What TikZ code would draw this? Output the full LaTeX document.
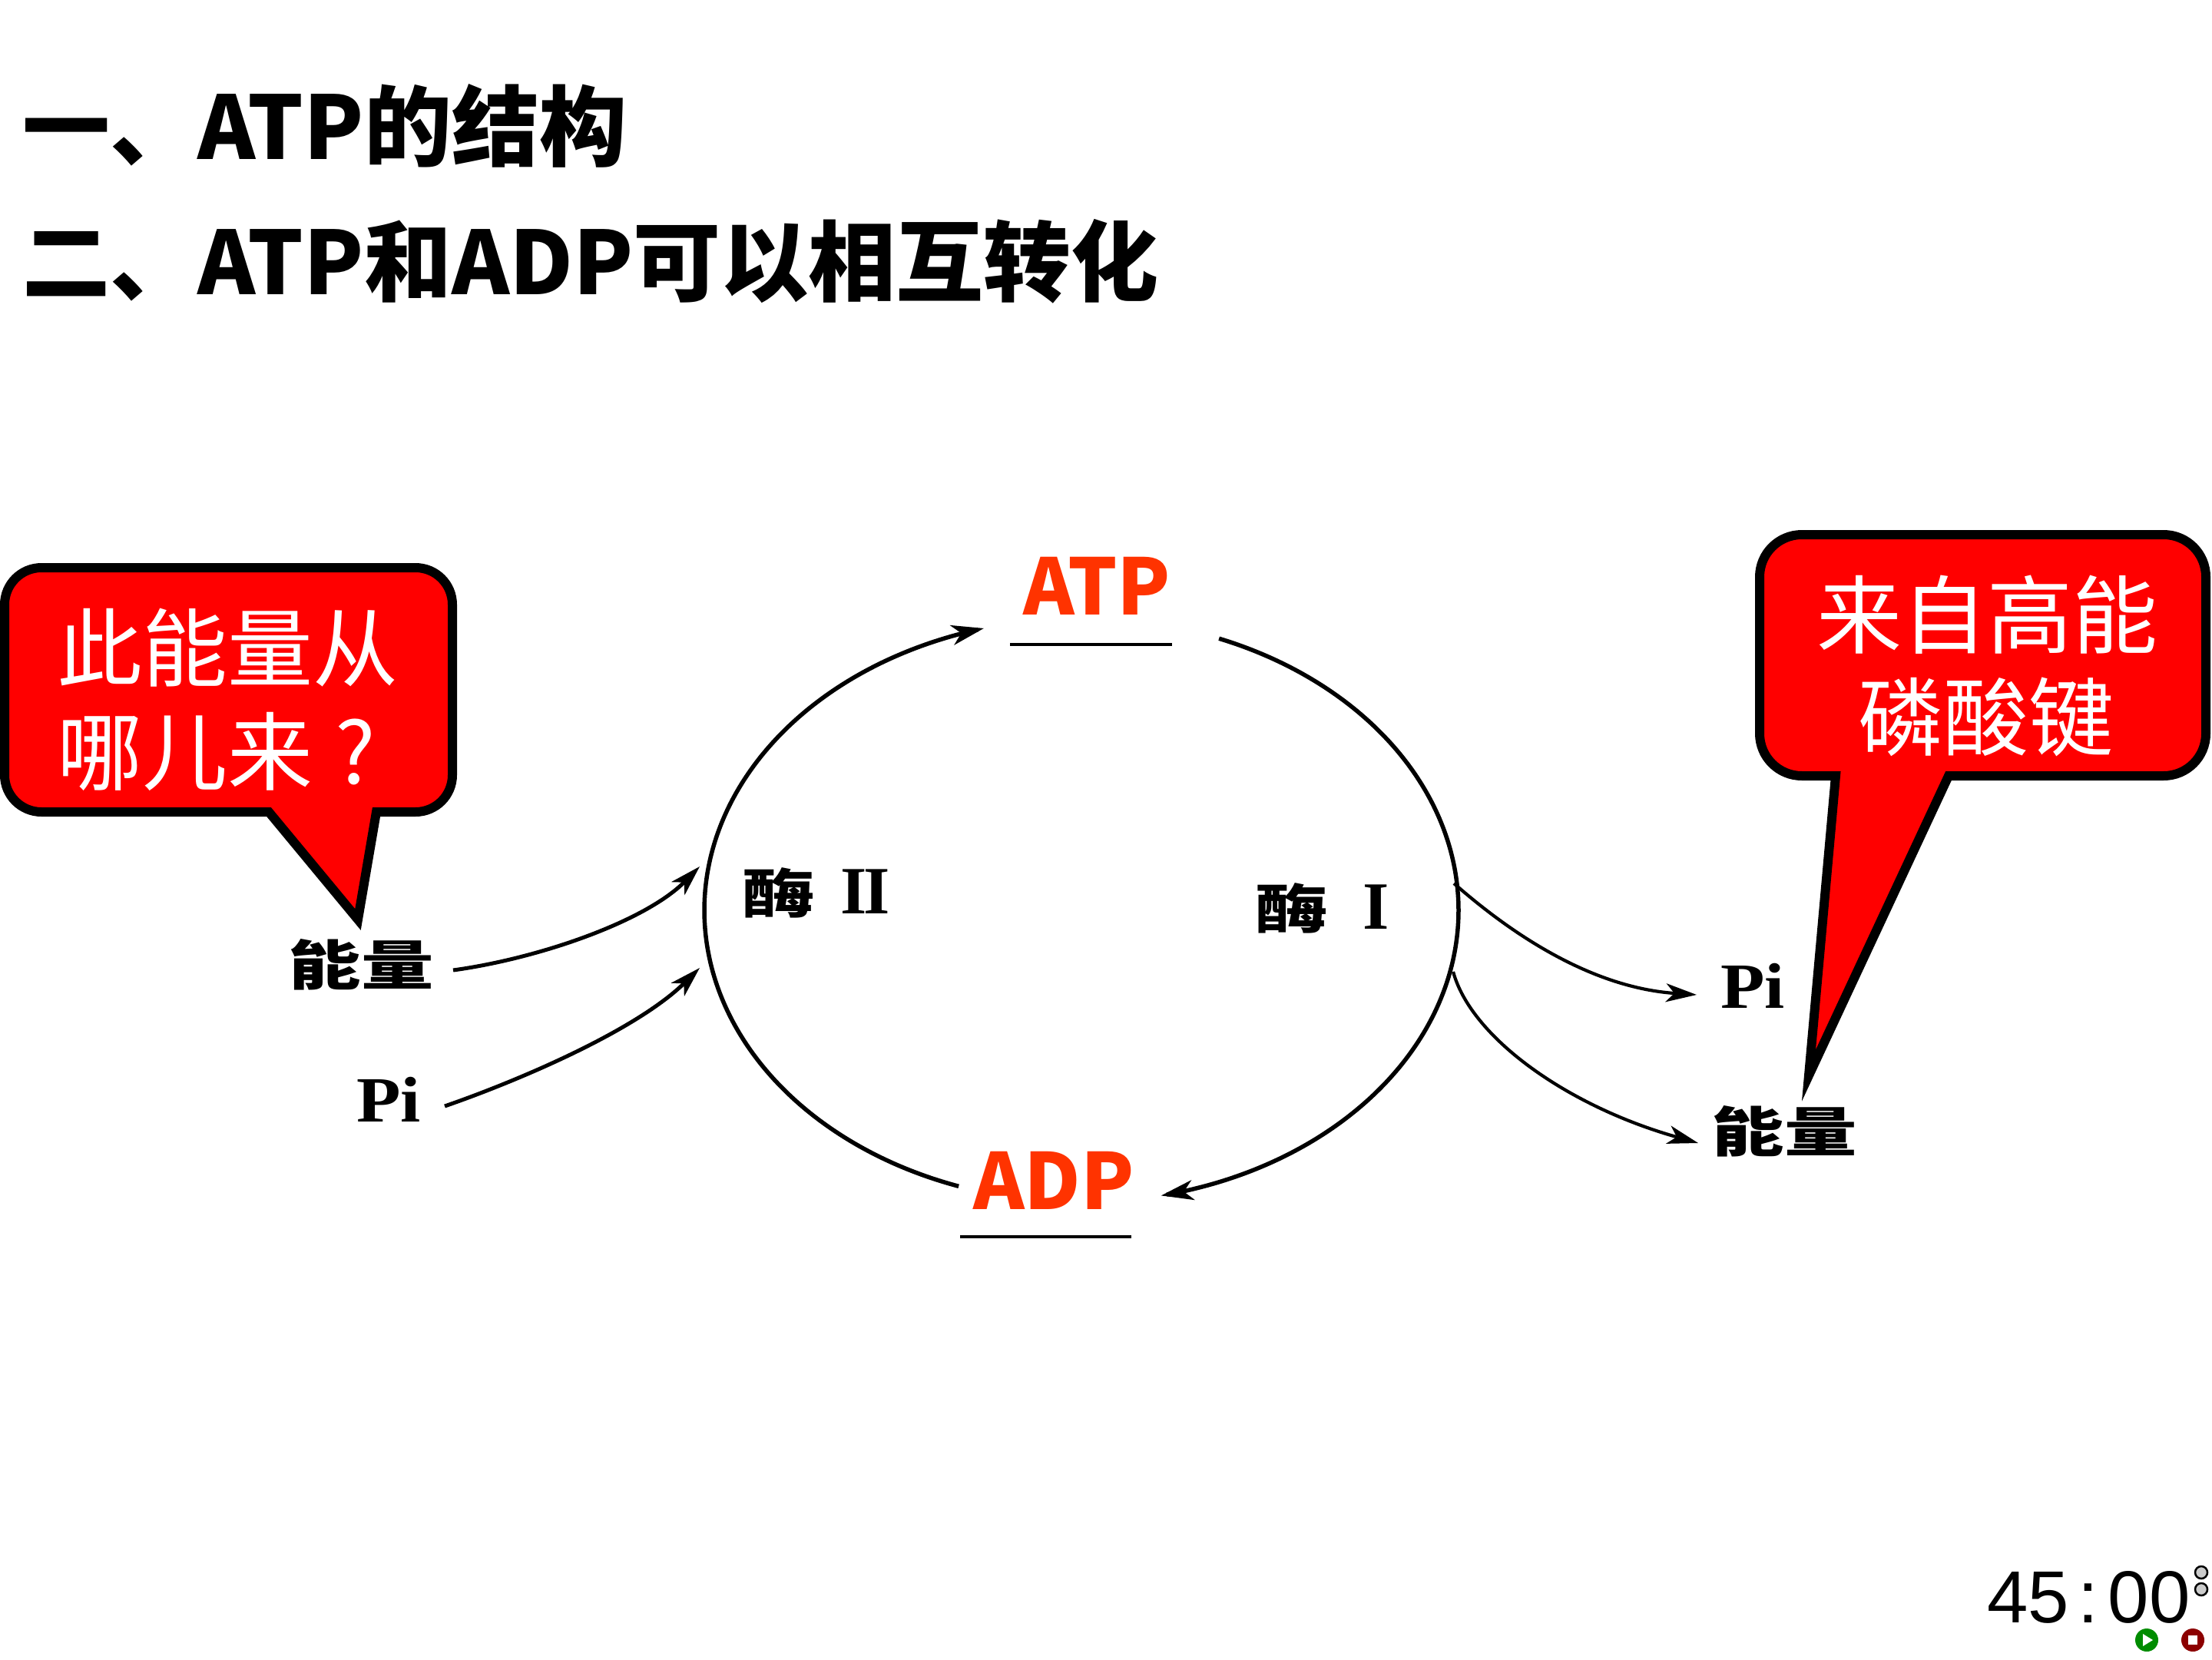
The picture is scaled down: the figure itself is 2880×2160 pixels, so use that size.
\documentclass[tikz,border=0pt]{standalone}
\usepackage{fontspec}
\usetikzlibrary{arrows.meta}
\newfontfamily\cjk{Noto Sans CJK SC}
\newfontfamily\cjklab[FakeStretch=1.35]{Noto Sans CJK SC}
\newfontfamily\tnr[FakeStretch=1.12]{Liberation Serif}
\newfontfamily\tnrr{Liberation Serif}
\newfontfamily\arial{Liberation Sans}
\definecolor{bubred}{RGB}{255,0,0}
\definecolor{atpred}{RGB}{255,51,0}
\begin{document}
\begin{tikzpicture}[x=1pt,y=-1pt,
  title/.style={anchor=base west, inner sep=0pt, font=\cjk\bfseries\fontsize{114}{130}\selectfont},
  bubtext/.style={anchor=base, inner sep=0pt, text=white, font=\cjk\fontsize{111}{130}\selectfont},
  bubble/.style={draw=black, fill=bubred, line width=12pt, line join=miter, miter limit=20},
  mol/.style={anchor=base, inner sep=0pt, text=atpred, font=\cjk\bfseries\fontsize{101}{120}\selectfont},
  lab/.style={anchor=base, inner sep=0pt, font=\cjklab\bfseries\fontsize{70}{80}\selectfont},
  pilab/.style={anchor=base, inner sep=0pt, font=\tnr\bfseries\fontsize{84}{90}\selectfont},
  cyc/.style={line width=5.5pt, -{Stealth[length=42pt,width=26pt,inset=12pt]}},
  side/.style={line width=5pt, -{Stealth[length=40pt,width=24pt,inset=11pt]}},
  sideR/.style={line width=4.2pt, -{Stealth[length=40pt,width=24pt,inset=11pt]}},
  uline/.style={line width=3.5pt}
]
\useasboundingbox (0,0) rectangle (2880,2160);
\fill[white] (0,0) rectangle (2880,2160);

% titles
\node[title] (t1) at (29,207) {一、ATP的结构};
\node[title] (t2) at (29,383) {二、ATP和ADP可以相互转化};

% left bubble
\draw[bubble] (6,787) .. controls (6,760.5) and (27.5,739) .. (54,739)
  -- (541,739) .. controls (567.5,739) and (589,760.5) .. (589,787)
  -- (589,1009) .. controls (589,1035.5) and (567.5,1057) .. (541,1057)
  -- (490,1057) -- (466,1197) -- (350,1057)
  -- (54,1057) .. controls (27.5,1057) and (6,1035.5) .. (6,1009) -- cycle;
\node[bubtext] (q1) at (296,885) {此能量从};
\node[bubtext] (q2) at (296,1020) {哪儿来\makebox[111pt]{?}};

% right bubble
\draw[bubble] (2291,751) .. controls (2291,720.6) and (2315.6,696) .. (2346,696)
  -- (2817,696) .. controls (2847.4,696) and (2872,720.6) .. (2872,751)
  -- (2872,955) .. controls (2872,985.4) and (2847.4,1010) .. (2817,1010)
  -- (2537,1010) -- (2355,1400) -- (2390,1010)
  -- (2346,1010) .. controls (2315.6,1010) and (2291,985.4) .. (2291,955) -- cycle;
\node[bubtext] (a1) at (2587,842) {来自高能};
\node[bubtext] (a2) at (2586,975) {磷酸键};

% ATP / ADP
\node[mol] (atp) at (1428,800) {ATP};
\node[mol] (adp) at (1372,1574) {ADP};
\coordinate (atpUL) at (1315,839);
\coordinate (atpUR) at (1526,839);
\coordinate (adpUL) at (1250,1610);
\coordinate (adpUR) at (1473,1610);
\draw[uline] (atpUL) -- (atpUR);
\draw[uline] (adpUL) -- (adpUR);

% cycle arcs (ellipse centre 1408,1185; radii 491, 380)
\draw[cyc] plot[domain=109:255, samples=120, smooth] ({1408+491*cos(\x)},{1185+380*sin(\x)});
\draw[cyc] plot[domain=-68.6:77.8, samples=120, smooth] ({1408+491*cos(\x)},{1185+380*sin(\x)});

% enzyme labels
\node[lab, anchor=base west] (enz2) at (966,1189) {酶\hspace{34pt}{\tnrr\bfseries\fontsize{88}{90}\selectfont I\kern-4pt I}};
\node[lab, anchor=base west] (enz1) at (1634,1209) {酶\hspace{46pt}{\tnrr\bfseries\fontsize{88}{90}\selectfont I}};

% left inputs
\node[lab] (lE) at (470,1282) {能量};
\node[pilab] (lPi) at (506,1460) {Pi};
\coordinate (lEs) at (590,1263);
\coordinate (lEe) at (911,1128);
\coordinate (lPs) at (579,1440);
\coordinate (lPe) at (911,1260);
\draw[side] (lEs) .. controls (700,1248) and (840,1200) .. (lEe);
\draw[side] (lPs) .. controls (680,1405) and (830,1340) .. (lPe);

% right outputs
\node[pilab] (rPi) at (2282,1312) {Pi};
\node[lab] (rE) at (2323,1499) {能量};
\coordinate (rPs) at (1893,1150);
\coordinate (rPe) at (2209,1295);
\coordinate (rEs) at (1892,1265);
\coordinate (rEe) at (2211,1488);
\draw[sideR] (rPs) .. controls (1950,1200) and (2060,1285) .. (rPe);
\draw[sideR] (rEs) .. controls (1915,1350) and (2040,1440) .. (rEe);

% timer
\node[anchor=base west, inner sep=0pt, font=\arial\fontsize{96}{100}\selectfont] (timer) at (2587,2112) {45\hspace{12pt}:\hspace{12pt}00};
\draw[line width=2.5pt, fill=gray!40] (2866,2047) circle[radius=8];
\draw[line width=2.5pt, fill=gray!40] (2866,2069) circle[radius=8];
\fill[green!55!black] (2795,2135) circle[radius=15];
\fill[white] (2790,2127) -- (2803,2135) -- (2790,2143) -- cycle;
\fill[red!55!black] (2855,2135) circle[radius=15];
\fill[white] (2849,2129) rectangle (2861,2141);
\end{tikzpicture}
\end{document}
